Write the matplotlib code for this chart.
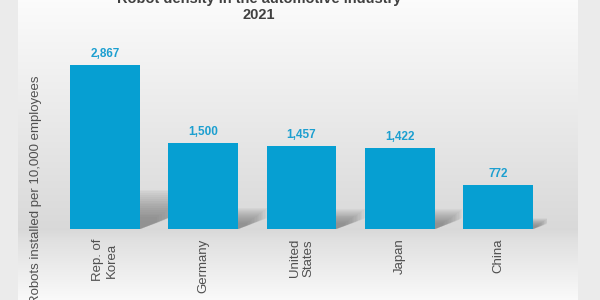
import numpy as np
import matplotlib.pyplot as plt
from matplotlib.patches import Polygon

plt.rcParams['font.family'] = ['Liberation Sans', 'DejaVu Sans']

# データ
countries = ["Rep. of\nKorea", "Germany", "United\nStates", "Japan", "China"]
density = [2867, 1500, 1457, 1422, 772]

bar_color = '#069fd2'
label_color = '#1c9fd0'
text_color = '#505050'

fig = plt.figure(figsize=(6, 3), dpi=100)
fig.patch.set_facecolor('#ebebeb')

# 背景パネル（縦グラデーション）
bg = fig.add_axes([18 / 600, 0, 560 / 600, 1])
rows = np.arange(300)
stops_y = [0, 60, 229, 240, 300]
stops_v = [0.985, 0.95, 0.85, 0.88, 0.98]
grad = np.interp(rows, stops_y, stops_v)[:, None]
bg.imshow(np.repeat(grad, 3, axis=1)[:, None, :], aspect='auto', extent=[0, 1, 0, 1])
bg.set_axis_off()

# メインのグラフ
ax = fig.add_axes([56 / 600, 71 / 300, 491 / 600, 171.6 / 300])
ax.patch.set_alpha(0)
x = np.arange(len(countries))
width = 0.71

# 影（重ねて濃淡を出す）
n = 16
for xi, h in zip(x, density):
    xr = xi + width / 2
    s = h * 0.24
    w = h * 0.0002
    for k in range(n):
        f = 1 - k * 0.75 / n
        poly = Polygon([(xr, 0), (xr, s * f), (xr + w * f, s * f), (xr + w * f, s * 0.55 * f)],
                       closed=True, facecolor='#707070', edgecolor='none', alpha=0.06, zorder=1)
        ax.add_patch(poly)

ax.bar(x, density, width=width, color=bar_color, zorder=3)

for xi, h in zip(x, density):
    ax.annotate(f"{h:,}", (xi, h), xytext=(0, 8), textcoords='offset points',
                ha='center', va='center', fontsize=8.5, fontweight='bold', color=label_color)

ax.set_xlim(-0.5, 4.5)
ax.set_ylim(0, 3000)
ax.set_xticks(x)
ax.set_xticklabels(countries, rotation=90, fontsize=9.5, color=text_color)
ax.tick_params(axis='x', length=0, pad=7)
ax.set_yticks([])
for sp in ax.spines.values():
    sp.set_visible(False)

fig.text(36 / 600, 1 - 190 / 300, "Robots installed per 10,000 employees", rotation=90,
         ha='center', va='center', fontsize=9.5, color=text_color)

fig.text(259 / 600, 1 - 3 / 300, "Robot density in the automotive industry",
         ha='center', va='baseline', fontsize=10.5, fontweight='bold', color='#404040')
fig.text(259 / 600, 1 - 19 / 300, "2021",
         ha='center', va='baseline', fontsize=10.5, fontweight='bold', color='#404040')

fig.savefig('out.png', dpi=100)
